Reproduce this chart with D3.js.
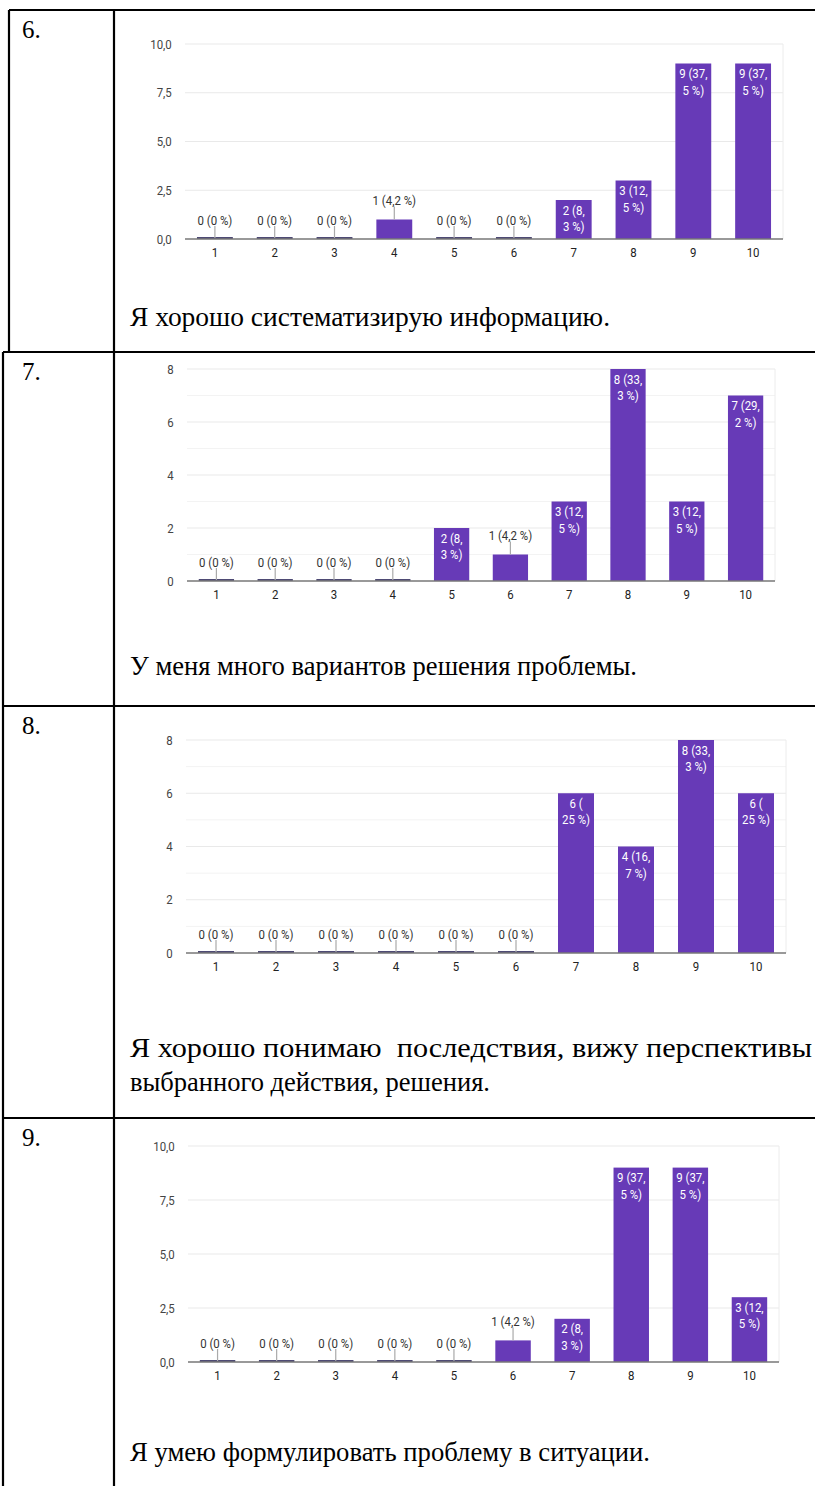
<!DOCTYPE html>
<html>
<head>
<meta charset="utf-8">
<script src="https://cdn.jsdelivr.net/npm/d3@7"></script>
<style>
  body { margin: 0; background: #fff; }
  svg { display: block; }
</style>
</head>
<body>
<svg id="page" width="815" height="1486"></svg>
<script>
// Survey answers on a 1–10 scale, 24 respondents in total
const categories = ["1", "2", "3", "4", "5", "6", "7", "8", "9", "10"];
const respondents = 24;

const rowNumbers = ["6.", "7.", "8.", "9."];

const counts6 = [0, 0, 0, 1, 0, 0, 2, 3, 9, 9];
const counts7 = [0, 0, 0, 0, 2, 1, 3, 8, 3, 7];
const counts8 = [0, 0, 0, 0, 0, 0, 6, 4, 8, 6];
const counts9 = [0, 0, 0, 0, 0, 1, 2, 9, 9, 3];

const ticksDecimal = [0, 2.5, 5, 7.5, 10];
const ticksEven = [0, 2, 4, 6, 8];
const minorEven = [1, 3, 5, 7];

const caption6 = ["Я хорошо систематизирую информацию."];
const caption7 = ["У меня много вариантов решения проблемы."];
const caption8 = ["Я хорошо понимаю  последствия, вижу перспективы", "выбранного действия, решения."];
const caption9 = ["Я умею формулировать проблему в ситуации."];

// ---- layout -------------------------------------------------------------
const rows = [
  { num: rowNumbers[0], counts: counts6, ticks: ticksDecimal, minor: [], max: 10,
    plot: { left: 185, right: 783, top: 44, bottom: 239 },
    caption: caption6, capY: [326], capW: [480], top: 10 },
  { num: rowNumbers[1], counts: counts7, ticks: ticksEven, minor: minorEven, max: 8,
    plot: { left: 187, right: 775, top: 369, bottom: 581 },
    caption: caption7, capY: [675], capW: [507], top: 352 },
  { num: rowNumbers[2], counts: counts8, ticks: ticksEven, minor: minorEven, max: 8,
    plot: { left: 186, right: 786, top: 740, bottom: 953 },
    caption: caption8, capY: [1057, 1091], capW: [682, 360], top: 706 },
  { num: rowNumbers[3], counts: counts9, ticks: ticksDecimal, minor: [], max: 10,
    plot: { left: 188, right: 779, top: 1146, bottom: 1362 },
    caption: caption9, capY: [1461], capW: [520], top: 1118 }
];

const svg = d3.select("#page");
const chartFont = "Roboto, 'Liberation Sans', Arial, sans-serif";
const serif = "'Liberation Serif', 'Times New Roman', serif";
const purple = "#673ab7";
const chartSize = 13;
const squeeze = "scale(0.88,1)";   // narrow chart lettering

const decimalFmt = v => d3.format(".1f")(v).replace(".", ",");
const intFmt = v => d3.format("d")(v);

function pctText(c) {
  const p = d3.format(".1f")(c / respondents * 100).replace(".", ",");
  return p.endsWith(",0") ? p.slice(0, -2) : p;
}
// Label lines as they wrap inside a narrow bar
function wrappedLabel(c) {
  const p = pctText(c);
  if (p.includes(",")) {
    const [a, b] = p.split(",");
    return [`${c} (${a},`, `${b} %)`];
  }
  return [`${c} (`, `${p} %)`];
}

rows.forEach(row => {
  const g = svg.append("g");
  const { left, right, top, bottom } = row.plot;

  const x = d3.scaleBand().domain(categories).range([left, right]).paddingInner(0.4).paddingOuter(0.2);
  const y = d3.scaleLinear().domain([0, row.max]).range([bottom, top]);

  // gridlines
  g.append("g").selectAll("line").data(row.minor).join("line")
    .attr("x1", left).attr("x2", right)
    .attr("y1", d => y(d)).attr("y2", d => y(d))
    .attr("stroke", "#f3f3f3").attr("stroke-width", 1);
  g.append("g").selectAll("line").data(row.ticks.filter(t => t > 0)).join("line")
    .attr("x1", left).attr("x2", right)
    .attr("y1", d => y(d)).attr("y2", d => y(d))
    .attr("stroke", "#e9e9e9").attr("stroke-width", 1.2);
  g.append("line")
    .attr("x1", right).attr("x2", right).attr("y1", top).attr("y2", bottom)
    .attr("stroke", "#ececec");

  // y axis labels
  const fmt = row.max === 10 ? decimalFmt : intFmt;
  const yAxis = d3.axisLeft(y).tickValues(row.ticks).tickFormat(fmt).tickSize(0).tickPadding(15);
  const ya = g.append("g").attr("transform", `translate(${left},0)`).call(yAxis);
  ya.select(".domain").remove();
  ya.selectAll("text").attr("font-family", chartFont).attr("font-size", chartSize)
    .attr("fill", "#444").attr("transform", squeeze);

  // x axis labels
  const xAxis = d3.axisBottom(x).tickSize(0).tickPadding(9);
  const xa = g.append("g").attr("transform", `translate(0,${bottom})`).call(xAxis);
  xa.select(".domain").remove();
  xa.selectAll("text").attr("font-family", chartFont).attr("font-size", chartSize)
    .attr("fill", "#222").attr("transform", squeeze);

  const data = categories.map((k, i) => ({ k, c: row.counts[i] }));

  // bars
  g.append("g").selectAll("rect").data(data).join("rect")
    .attr("x", d => x(d.k)).attr("width", x.bandwidth())
    .attr("y", d => d.c > 0 ? y(d.c) : bottom - 2)
    .attr("height", d => d.c > 0 ? bottom - y(d.c) : 2)
    .attr("fill", d => d.c > 0 ? purple : "#4e4a74");

  // baseline
  g.append("line")
    .attr("x1", left).attr("x2", right).attr("y1", bottom).attr("y2", bottom)
    .attr("stroke", "#777").attr("stroke-width", 1.6);

  // labels above short bars, with a leader line
  const outside = data.filter(d => bottom - y(d.c) < 32);
  const inside = data.filter(d => bottom - y(d.c) >= 32);
  const cx = d => x(d.k) + x.bandwidth() / 2;

  g.append("g").selectAll("line").data(outside).join("line")
    .attr("x1", cx).attr("x2", cx)
    .attr("y1", d => y(d.c) - 13).attr("y2", d => y(d.c) - (d.c > 0 ? 0 : 1))
    .attr("stroke", "#aaa").attr("stroke-width", 1.2);
  g.append("g").selectAll("text").data(outside).join("text")
    .attr("transform", d => `translate(${cx(d)},${y(d.c) - 19}) ${squeeze}`)
    .attr("dy", "0.35em").attr("text-anchor", "middle")
    .attr("font-family", chartFont).attr("font-size", chartSize).attr("fill", "#333")
    .text(d => `${d.c} (${pctText(d.c)} %)`);

  const inner = g.append("g").selectAll("text").data(inside).join("text")
    .attr("transform", d => `translate(${cx(d)},${y(d.c)}) ${squeeze}`)
    .attr("text-anchor", "middle")
    .attr("font-family", chartFont).attr("font-size", chartSize).attr("fill", "#fff");
  inner.each(function (d) {
    const lines = wrappedLabel(d.c);
    d3.select(this).selectAll("tspan").data(lines).join("tspan")
      .attr("x", 0).attr("y", (l, i) => 10 + i * 16.5)
      .attr("dy", "0.35em").text(l => l);
  });

  // row number and caption
  svg.append("text").attr("x", 22).attr("y", row.top + 28)
    .attr("font-family", serif).attr("font-size", 25).attr("fill", "#000")
    .text(row.num);
  row.caption.forEach((line, i) => {
    svg.append("text").attr("x", 130).attr("y", row.capY[i])
      .attr("font-family", serif).attr("font-size", 27).attr("fill", "#000")
      .attr("textLength", row.capW[i]).attr("lengthAdjust", "spacingAndGlyphs")
      .attr("xml:space", "preserve")
      .text(line);
  });
});

// table grid
const grid = svg.append("g").attr("stroke", "#000").attr("stroke-width", 2.2);
grid.append("line").attr("x1", 9).attr("x2", 815).attr("y1", 10).attr("y2", 10);
rows.slice(1).forEach(r => {
  grid.append("line").attr("x1", 3).attr("x2", 815).attr("y1", r.top).attr("y2", r.top);
});
grid.append("line").attr("x1", 9).attr("x2", 9).attr("y1", 10).attr("y2", 352);
grid.append("line").attr("x1", 3).attr("x2", 3).attr("y1", 352).attr("y2", 1486);
grid.append("line").attr("x1", 114).attr("x2", 114).attr("y1", 10).attr("y2", 1486);
</script>
</body>
</html>
